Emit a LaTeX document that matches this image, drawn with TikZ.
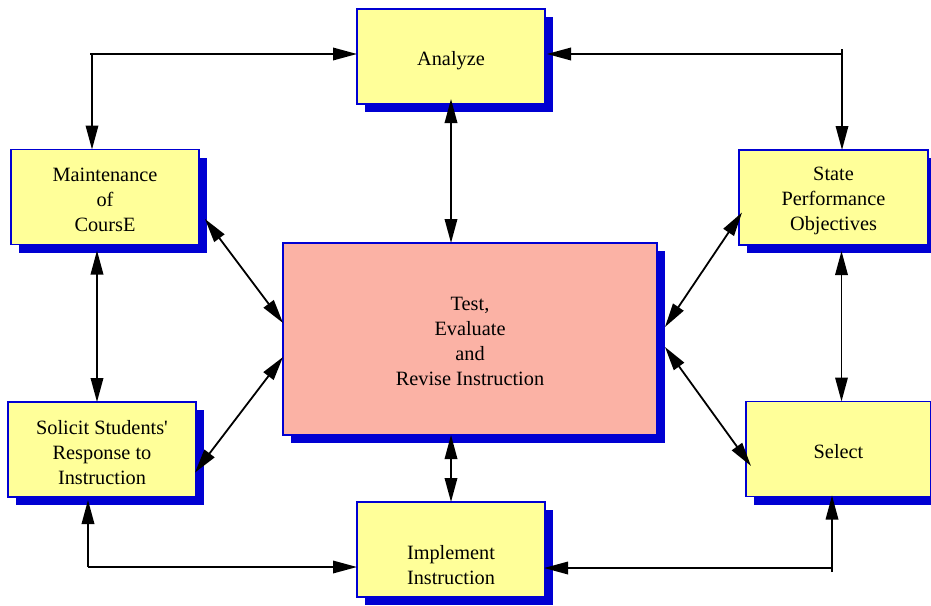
\documentclass[tikz,border=0pt]{standalone}
\usepackage{fontspec}
\setmainfont{Liberation Serif}
\usetikzlibrary{arrows.meta,shadows}
\definecolor{boxyellow}{RGB}{255,255,153}
\definecolor{boxblue}{RGB}{0,0,210}
\definecolor{hubfill}{RGB}{251,178,165}

\begin{document}
\begin{tikzpicture}[x=1pt,y=-1pt,
  box/.style={draw=boxblue, line width=1.3pt, fill=boxyellow,
    minimum width=188pt, minimum height=95pt, inner sep=0pt, outer sep=0pt,
    general shadow={fill=boxblue, shadow xshift=8pt, shadow yshift=-8pt}},
  hub/.style={box, fill=hubfill, minimum width=374pt, minimum height=192pt},
  caption/.style={font=\fontsize{20.3}{25}\selectfont, align=center, yshift=-3pt},
  link/.style={line width=1.8pt, draw=black},
  onetip/.style={link, arrows={-Triangle[length=24pt,width=12.5pt]}},
  twotip/.style={link, arrows={Triangle[length=24pt,width=12.5pt]-Triangle[length=24pt,width=12.5pt]}}]

\useasboundingbox (0,0) rectangle (931,605);

% process steps
\node[box, label={[caption, yshift=-1.5pt]center:Analyze}] (ana) at (451,56.5) {};
\node[box, label={[caption]center:{Maintenance\\of\\CoursE}}] (maint) at (105,197) {};
\node[box, minimum width=189pt, label={[caption]center:{State\\Performance\\Objectives}}] (state) at (833.5,197.5) {};
\node[hub, label={[caption, yshift=1pt]center:{Test,\\Evaluate\\and\\Revise Instruction}}] (hub) at (470,339) {};
\node[box, label={[caption]center:{Solicit Students\textquotesingle\\Response to\\Instruction}}] (solicit) at (102,449.5) {};
\node[box, minimum width=185pt, label={[caption]center:Select}] (select) at (838.5,449) {};
\node[box, label={[caption, yshift=-12.5pt]center:{Implement\\Instruction}}] (impl) at (451,549.5) {};

% top loop
\coordinate (tl) at (92,54);
\coordinate (tr) at (842,54);
\draw[link] (90,54) -- (tl);
\draw[onetip] (tl) -- (ana.west |- tl);
\draw[onetip] (tl) -- (tl |- maint.north);
\draw[onetip] (tr) -- ([xshift=2pt]ana.east |- tr);
\draw[link] (842,49) -- (tr);
\draw[onetip] (tr) -- (tr |- state.north);

% bottom loop
\coordinate (bl) at (88,567);
\coordinate (br) at (832,568);
\draw[onetip] (bl) -- (impl.west |- bl);
\draw[onetip] (bl) -- ([yshift=-3pt]bl |- solicit.south);
\draw[onetip] (br) -- ([xshift=-1pt]impl.east |- br);
\draw[link] (832,572) -- (br);
\draw[onetip] (br) -- ([yshift=1pt]br |- select.south);

% spokes to the central step
\draw[twotip] ([yshift=5pt]ana.south) -- (ana.south |- hub.north);
\draw[twotip] (hub.south -| impl.north) -- (impl.north);
\draw[twotip] ([shift={(6,22)}]maint.east) -- ([shift={(0,-16)}]hub.west);
\draw[twotip] ([shift={(-1,23)}]solicit.east) -- ([shift={(0,18)}]hub.west);
\draw[twotip] ([shift={(3,15)}]state.west) -- ([shift={(8,-12)}]hub.east);
\draw[twotip] ([shift={(8,8)}]hub.east) -- ([shift={(5,17)}]select.west);

% side links
\draw[twotip] ([shift={(-8,6)}]maint.south) -- ([xshift=-5pt]solicit.north);
\draw[twotip] ([shift={(8,6)}]state.south) -- ([xshift=3pt]select.north);
\end{tikzpicture}
\end{document}
